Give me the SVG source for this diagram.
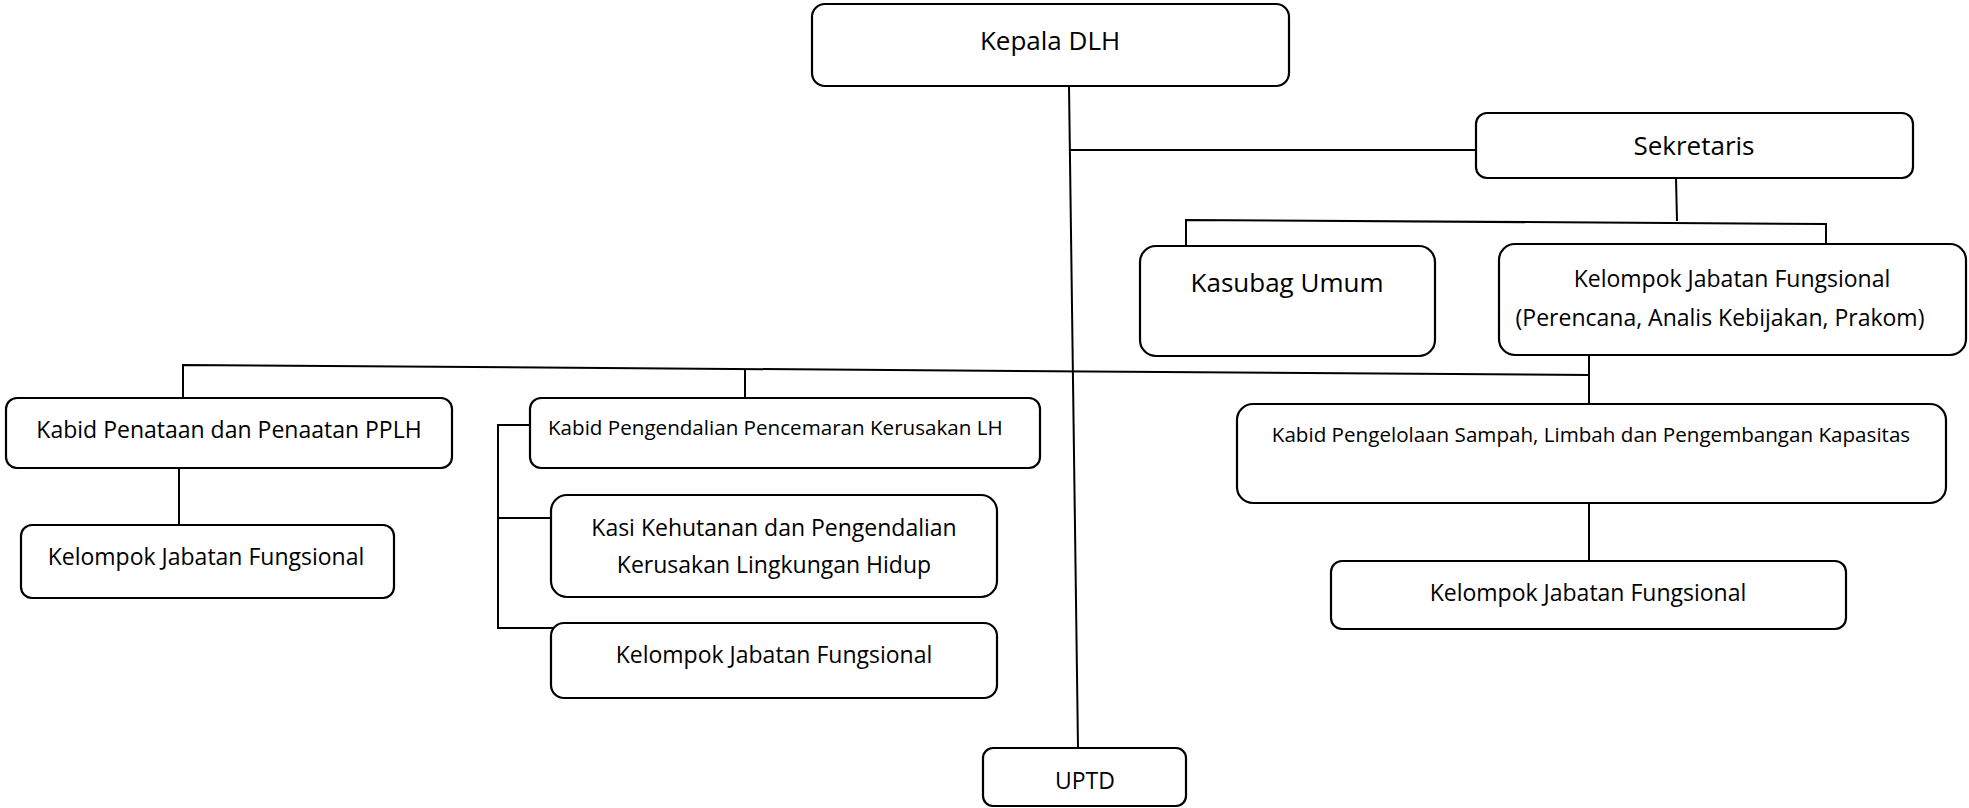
<svg xmlns="http://www.w3.org/2000/svg" width="1969" height="808" viewBox="0 0 1969 808">
<style>
.box{fill:#fff;stroke:#000;stroke-width:2.2}
.ln{fill:none;stroke:#000;stroke-width:2}
text{font-family:"Open Sans","Noto Sans",sans-serif;fill:#000;text-anchor:middle}
.big{font-size:26px}
.mid{font-size:23px}
.sm{font-size:20.6px}
</style>
<rect width="1969" height="808" fill="#fff"/>
<g id="connectors">
<polyline class="ln" points="1069,86 1078,748"/>
<polyline class="ln" points="1069,150 1476,150"/>
<polyline class="ln" points="1676,178 1677,221"/>
<polyline class="ln" points="1186,246 1186,220 1826,224 1826,244"/>
<polyline class="ln" points="183,415 183,365 1589,375"/>
<polyline class="ln" points="1589,355 1589,404"/>
<polyline class="ln" points="745,369 745,398"/>
<polyline class="ln" points="179,468 179,525"/>
<polyline class="ln" points="530,425 498,425 498,628 553,628"/>
<polyline class="ln" points="498,518 551,518"/>
<polyline class="ln" points="1589,503 1589,561"/>
</g>
<g id="kepala"><rect class="box" x="812" y="4" width="477" height="82" rx="13"/><text class="big" x="1050" y="50">Kepala DLH</text></g>
<g id="sekretaris"><rect class="box" x="1476" y="113" width="437" height="65" rx="11"/><text class="big" x="1694" y="155">Sekretaris</text></g>
<g id="kasubag"><rect class="box" x="1140" y="246" width="295" height="110" rx="16"/><text class="big" x="1287" y="292">Kasubag Umum</text></g>
<g id="jf-sekretariat"><rect class="box" x="1499" y="244" width="467" height="111" rx="16"/><text class="mid" x="1732" y="287">Kelompok Jabatan Fungsional</text><text class="mid" x="1720" y="326">(Perencana, Analis Kebijakan, Prakom)</text></g>
<g id="kabid-penataan"><rect class="box" x="6" y="398" width="446" height="70" rx="11"/><text class="mid" x="229" y="438">Kabid Penataan dan Penaatan PPLH</text></g>
<g id="jf-penataan"><rect class="box" x="21" y="525" width="373" height="73" rx="11"/><text class="mid" x="206" y="565">Kelompok Jabatan Fungsional</text></g>
<g id="kabid-pengendalian"><rect class="box" x="530" y="398" width="510" height="70" rx="11"/><text class="sm" x="548" y="435" style="text-anchor:start">Kabid Pengendalian Pencemaran Kerusakan LH</text></g>
<g id="kasi-kehutanan"><rect class="box" x="551" y="495" width="446" height="102" rx="16"/><text class="mid" x="774" y="536">Kasi Kehutanan dan Pengendalian</text><text class="mid" x="774" y="573">Kerusakan Lingkungan Hidup</text></g>
<g id="jf-pengendalian"><rect class="box" x="551" y="623" width="446" height="75" rx="13"/><text class="mid" x="774" y="663">Kelompok Jabatan Fungsional</text></g>
<g id="kabid-pengelolaan"><rect class="box" x="1237" y="404" width="709" height="99" rx="16"/><text class="sm" x="1591" y="442">Kabid Pengelolaan Sampah, Limbah dan Pengembangan Kapasitas</text></g>
<g id="jf-pengelolaan"><rect class="box" x="1331" y="561" width="515" height="68" rx="11"/><text class="mid" x="1588" y="601">Kelompok Jabatan Fungsional</text></g>
<g id="uptd"><rect class="box" x="983" y="748" width="203" height="58" rx="10"/><text class="mid" x="1085" y="789">UPTD</text></g>
</svg>
